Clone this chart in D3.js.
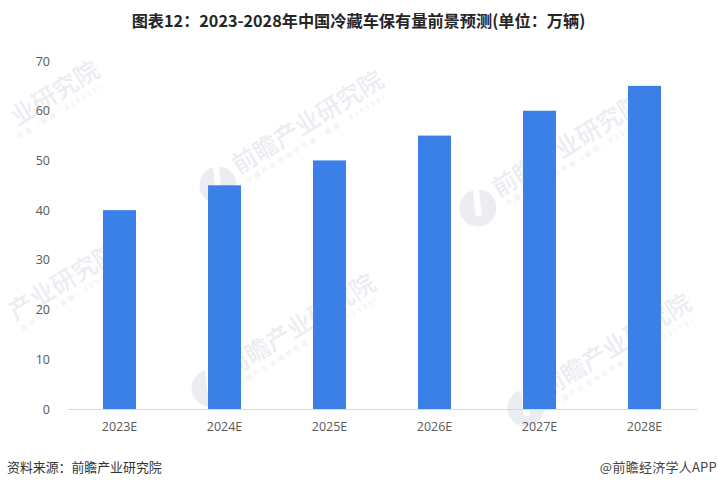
<!DOCTYPE html>
<html><head><meta charset="utf-8">
<script src="https://cdn.jsdelivr.net/npm/d3@7/dist/d3.min.js"></script>
<style>html,body{margin:0;padding:0;background:#fff}svg{display:block}</style></head>
<body><svg id="c" width="718" height="489"></svg>
<script>
const categories=["2023E","2024E","2025E","2026E","2027E","2028E"];
const values=[40,45,50,55,60,65];
const yTicks=[0,10,20,30,40,50,60,70];
const titleText="图表12：2023-2028年中国冷藏车保有量前景预测(单位：万辆)";
const sourceText="资料来源：前瞻产业研究院";
const creditText="@前瞻经济学人APP";
const markText="前瞻产业研究院";
const markSub="中国产业咨询领导者（股票：839599）";
// logo position, characters of the name and of the tagline left out because they fall past the left edge
const markSpots=[[-66,175,3,7],[218,185,0,0],[478,208,0,0],[-47,357,2,5],[210,388,0,0],[526,408,0,0]];

const W=718,H=489,m={l:67,r:21,t:61,b:80};
const svg=d3.select("#c");
const cjk="'Noto Sans CJK SC','Noto Sans',sans-serif";
const wmColor="#ebedf2";
const x=d3.scaleBand().domain(categories).range([m.l,W-m.r]).paddingInner(0.686).paddingOuter(0.343);
const y=d3.scaleLinear().domain([0,70]).range([H-m.b,m.t]);

// watermark
const wm=svg.append("g").selectAll("g").data(markSpots).join("g")
 .attr("transform",d=>`translate(${d[0]},${d[1]}) rotate(-31.5)`);
wm.filter(d=>d[0]>0).append("circle").attr("r",18.5).attr("fill",wmColor);
wm.filter(d=>d[0]>0).append("rect").attr("x",-3).attr("y",-20).attr("width",6).attr("height",28).attr("fill","#fff").attr("transform","rotate(25)");
wm.append("text").attr("x",d=>23+d[2]*24.6).attr("y",2).attr("font-family",cjk).attr("font-size",24.6).attr("font-weight",500).attr("fill",wmColor).text(d=>markText.slice(d[2]));
wm.append("text").attr("x",d=>26+d[3]*9.3).attr("y",14).attr("font-family",cjk).attr("font-size",6.5).attr("letter-spacing",2.8).attr("fill",wmColor).text(d=>markSub.slice(d[3]));

// axis
const ax=svg.append("g").attr("transform",`translate(0,${H-m.b})`).call(d3.axisBottom(x).tickSize(0).tickPadding(13));
ax.select(".domain").attr("stroke","#d9d9d9").attr("stroke-width",1);
ax.selectAll("text").attr("font-family","'Open Sans',sans-serif").attr("font-size",12.5).attr("fill","#595959");
const ay=svg.append("g").attr("transform",`translate(${m.l},0)`).call(d3.axisLeft(y).tickValues(yTicks).tickSize(0).tickPadding(17));
ay.select(".domain").remove();
ay.selectAll("text").attr("font-family","'Open Sans',sans-serif").attr("font-size",12.5).attr("fill","#595959");

// bars
svg.append("g").selectAll("rect").data(values).join("rect")
 .attr("x",(d,i)=>x(categories[i])).attr("width",x.bandwidth())
 .attr("y",d=>y(d)).attr("height",d=>y(0)-y(d)).attr("fill","#3a80e6");

// text
svg.append("text").attr("x",358.5).attr("y",27).attr("text-anchor","middle").attr("font-family",cjk).attr("font-size",16.2).attr("font-weight",700).attr("fill","#262626").text(titleText);
svg.append("text").attr("x",7).attr("y",472).attr("font-family",cjk).attr("font-size",12.9).attr("fill","#333").text(sourceText);
svg.append("text").attr("x",717).attr("y",472).attr("text-anchor","end").attr("font-family",cjk).attr("font-size",13).attr("letter-spacing",0.25).attr("fill","#444").text(creditText);
</script></body></html>
